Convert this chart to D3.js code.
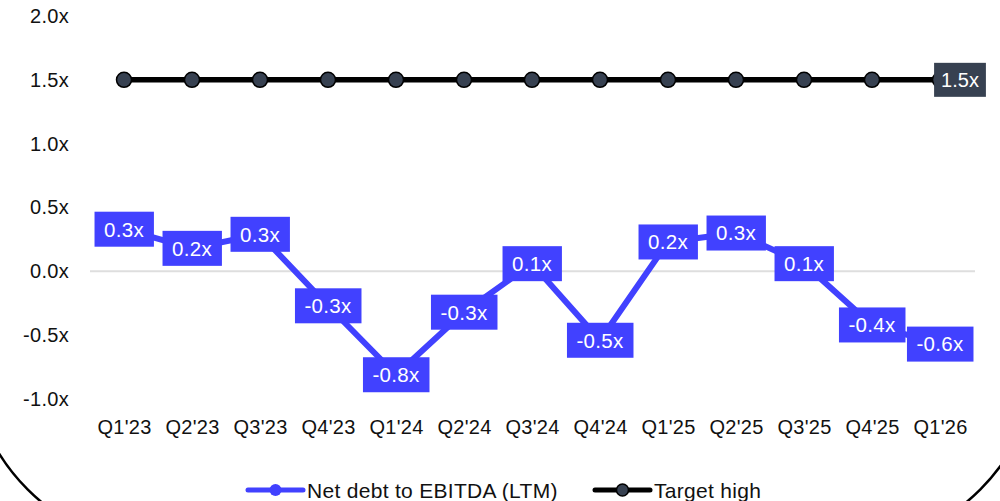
<!DOCTYPE html>
<html>
<head>
<meta charset="utf-8">
<script src="https://cdn.jsdelivr.net/npm/d3@7"></script>
<style>
  html, body { margin: 0; padding: 0; background: #fff; }
  svg { display: block; font-family: "Liberation Sans", Arial, sans-serif; }
</style>
</head>
<body>
<svg id="chart" width="1000" height="501"></svg>
<script>
// Quarterly leverage data
const quarters = ["Q1'23", "Q2'23", "Q3'23", "Q4'23", "Q1'24", "Q2'24", "Q3'24",
                  "Q4'24", "Q1'25", "Q2'25", "Q3'25", "Q4'25", "Q1'26"];
const netDebtToEbitda = [0.33, 0.18, 0.29, -0.27, -0.81, -0.32, 0.06,
                         -0.54, 0.23, 0.30, 0.06, -0.42, -0.57];
const targetHigh = [1.5, 1.5, 1.5, 1.5, 1.5, 1.5, 1.5, 1.5, 1.5, 1.5, 1.5, 1.5, 1.5];
const yTicks = [-1, -0.5, 0, 0.5, 1, 1.5, 2];
const seriesNames = ["Net debt to EBITDA (LTM)", "Target high"];

const blue = "#4141ff";
const slate = "#374151";
const fmt = v => v.toFixed(1) + "x";

const svg = d3.select("#chart");

const x = d3.scalePoint().domain(quarters).range([124, 940]);
const y = d3.scaleLinear().domain([-1, 2]).range([399, 16]);

// Card outline (only its rounded bottom is in view)
svg.append("rect")
  .attr("x", -31).attr("y", -400)
  .attr("width", 1070).attr("height", 948)
  .attr("rx", 200).attr("ry", 200)
  .attr("fill", "none").attr("stroke", "#000").attr("stroke-width", 2.5);

// Y axis labels
const yAxis = d3.axisLeft(y).tickValues(yTicks).tickSize(0).tickPadding(0).tickFormat(fmt);
svg.append("g")
  .attr("transform", "translate(69,0)")
  .call(yAxis)
  .call(g => g.select(".domain").remove())
  .call(g => g.selectAll("text")
    .attr("font-size", 20).attr("fill", "#111")
    .attr("letter-spacing", "0.3px")
    .attr("font-family", "Liberation Sans, Arial, sans-serif"));

// Zero baseline
svg.append("line")
  .attr("x1", 90).attr("x2", 975)
  .attr("y1", y(0)).attr("y2", y(0))
  .attr("stroke", "#dedede").attr("stroke-width", 2);

// X axis labels
const xAxis = d3.axisBottom(x).tickSize(0).tickPadding(0);
svg.append("g")
  .attr("transform", "translate(0,420)")
  .call(xAxis)
  .call(g => g.select(".domain").remove())
  .call(g => g.selectAll("text")
    .attr("font-size", 20).attr("fill", "#111")
    .attr("letter-spacing", "0.3px")
    .attr("font-family", "Liberation Sans, Arial, sans-serif"));

const line = d3.line().x((d, i) => x(quarters[i])).y(d => y(d));

// Target high series
svg.append("path")
  .datum(targetHigh)
  .attr("d", line)
  .attr("fill", "none").attr("stroke", "#000").attr("stroke-width", 5.5);
svg.append("g").selectAll("circle")
  .data(targetHigh)
  .join("circle")
  .attr("cx", (d, i) => x(quarters[i])).attr("cy", d => y(d))
  .attr("r", 7.5).attr("fill", slate).attr("stroke", "#000").attr("stroke-width", 1.5);

// Target end label
const last = targetHigh.length - 1;
const tg = svg.append("g");
const tText = tg.append("text")
  .attr("x", x(quarters[last]) + 20).attr("y", y(targetHigh[last]))
  .attr("dy", "0.36em").attr("text-anchor", "middle")
  .attr("font-size", 20).attr("fill", "#fff")
  .text(fmt(targetHigh[last]));
const tb = tText.node().getBBox();
tg.insert("rect", "text")
  .attr("x", tb.x - 7).attr("y", y(targetHigh[last]) - 17)
  .attr("width", tb.width + 14).attr("height", 34)
  .attr("fill", slate);

// Net debt to EBITDA series
svg.append("path")
  .datum(netDebtToEbitda)
  .attr("d", line)
  .attr("fill", "none").attr("stroke", blue).attr("stroke-width", 6)
  .attr("stroke-linejoin", "round");
svg.append("g").selectAll("circle")
  .data(netDebtToEbitda)
  .join("circle")
  .attr("cx", (d, i) => x(quarters[i])).attr("cy", d => y(d))
  .attr("r", 6).attr("fill", blue);

// Value labels
const lab = svg.append("g").selectAll("g")
  .data(netDebtToEbitda)
  .join("g")
  .attr("transform", (d, i) => `translate(${x(quarters[i])},${y(d)})`);
lab.append("text")
  .attr("text-anchor", "middle").attr("dy", "0.36em")
  .attr("font-size", 20.5).attr("fill", "#fff")
  .attr("letter-spacing", "0.3px")
  .text(d => fmt(d));
lab.each(function () {
  const g = d3.select(this);
  const b = g.select("text").node().getBBox();
  g.insert("rect", "text")
    .attr("x", b.x - 9.5).attr("y", -17.5)
    .attr("width", b.width + 19).attr("height", 35)
    .attr("fill", blue);
});

// Legend
const legend = svg.append("g");
const legendItems = [
  { name: seriesNames[0], x0: 248, color: blue, dot: blue },
  { name: seriesNames[1], x0: 595, color: "#000", dot: slate }
];
legendItems.forEach(it => {
  const g = legend.append("g").attr("transform", `translate(${it.x0},490)`);
  g.append("line").attr("x1", 0).attr("x2", 55).attr("y1", 0).attr("y2", 0)
    .attr("stroke", it.color).attr("stroke-width", 5).attr("stroke-linecap", "round");
  g.append("circle").attr("cx", 27.5).attr("cy", 0).attr("r", 6)
    .attr("fill", it.dot).attr("stroke", it.color === "#000" ? "#000" : "none").attr("stroke-width", 1.5);
  g.append("text").attr("x", 59).attr("y", 0).attr("dy", "0.36em")
    .attr("font-size", 21).attr("letter-spacing", "0.3px")
    .attr("fill", "#111").text(it.name);
});
</script>
</body>
</html>
